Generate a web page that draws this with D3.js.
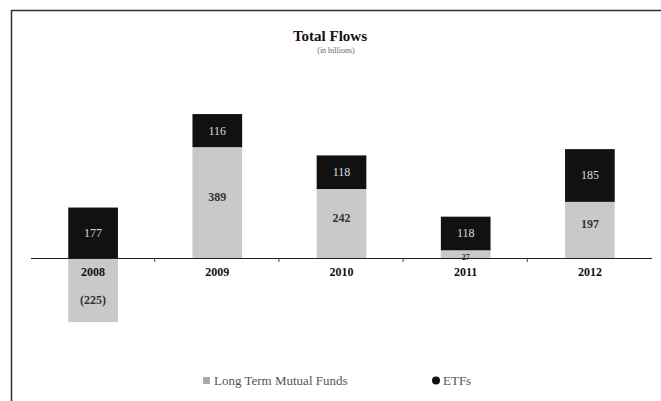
<!DOCTYPE html>
<html>
<head>
<meta charset="utf-8">
<script src="https://cdn.jsdelivr.net/npm/d3@7"></script>
<style>
  body { margin: 0; background: #fff; }
  text { font-family: "Liberation Serif", "DejaVu Serif", serif; }
</style>
</head>
<body>
<div id="chart"></div>
<script>
// values in billions
var years = ["2008", "2009", "2010", "2011", "2012"];
var mutualFunds = [-225, 389, 242, 27, 197];
var etfs = [177, 116, 118, 118, 185];
var seriesNames = ["Long Term Mutual Funds", "ETFs"];

var width = 661, height = 401;
var svg = d3.select("#chart").append("svg")
  .attr("width", width)
  .attr("height", height);

// frame lines
svg.append("line").attr("x1", 11).attr("x2", width).attr("y1", 10.5).attr("y2", 10.5)
  .attr("stroke", "#333").attr("stroke-width", 1.5);
svg.append("line").attr("x1", 11.5).attr("x2", 11.5).attr("y1", 10).attr("y2", height)
  .attr("stroke", "#333").attr("stroke-width", 1.5);

svg.append("text").attr("x", 330).attr("y", 41).attr("text-anchor", "middle")
  .attr("font-size", 15).attr("font-weight", "bold").attr("fill", "#111")
  .text("Total Flows");
svg.append("text").attr("x", 336).attr("y", 53).attr("text-anchor", "middle")
  .attr("font-size", 8).attr("fill", "#666")
  .text("(in billions)");

var x = d3.scaleBand().domain(years).range([31, 652]).paddingInner(0.6).paddingOuter(0.3);
var y = d3.scaleLinear().domain([-400, 600]).range([258 + 400 * 0.285, 258 - 600 * 0.285]);

var cMF = "#c9c9c9", cETF = "#111";

var rows = years.map(function(yr, i){
  var mf = mutualFunds[i];
  var base = mf > 0 ? mf : 0;
  return {year: yr, mf: mf, etf: etfs[i], etf0: base, etf1: base + etfs[i]};
});

var g = svg.append("g");

// mutual funds segment
g.selectAll(".mf").data(rows).enter().append("rect")
  .attr("class", "mf")
  .attr("x", function(d){ return x(d.year); })
  .attr("width", x.bandwidth())
  .attr("y", function(d){ return y(Math.max(0, d.mf)); })
  .attr("height", function(d){ return Math.abs(y(d.mf) - y(0)); })
  .attr("fill", cMF);

// ETF segment on top
g.selectAll(".etf").data(rows).enter().append("rect")
  .attr("class", "etf")
  .attr("x", function(d){ return x(d.year); })
  .attr("width", x.bandwidth())
  .attr("y", function(d){ return y(d.etf1); })
  .attr("height", function(d){ return y(d.etf0) - y(d.etf1); })
  .attr("fill", cETF);

// axis line with ticks between categories
svg.append("line").attr("x1", 31).attr("x2", 652).attr("y1", 258.5).attr("y2", 258.5)
  .attr("stroke", "#222").attr("stroke-width", 1.2);
svg.selectAll(".tk").data(years.slice(1)).enter().append("line")
  .attr("x1", function(d){ return x(d) - x.step() * x.paddingInner() / 2 - 0.5; })
  .attr("x2", function(d){ return x(d) - x.step() * x.paddingInner() / 2 - 0.5; })
  .attr("y1", 258).attr("y2", 262)
  .attr("stroke", "#444");

// value labels
g.selectAll(".etfLbl").data(rows).enter().append("text")
  .attr("x", function(d){ return x(d.year) + x.bandwidth() / 2; })
  .attr("y", function(d){ return (y(d.etf0) + y(d.etf1)) / 2 + 4; })
  .attr("text-anchor", "middle").attr("font-size", 12).attr("fill", "#ddd")
  .text(function(d){ return d.etf; });

g.selectAll(".mfLbl").data(rows).enter().append("text")
  .attr("x", function(d){ return x(d.year) + x.bandwidth() / 2; })
  .attr("y", function(d){
    var c = (y(d.mf) + y(0)) / 2;
    if (d.mf < 0) return c + 14;
    if (Math.abs(d.mf) < 50) return y(0) + 2;
    return c - 2;
  })
  .attr("text-anchor", "middle")
  .attr("font-size", function(d){ return Math.abs(d.mf) < 50 ? 8 : 12; })
  .attr("font-weight", "bold").attr("fill", "#333")
  .text(function(d){ return d.mf < 0 ? "(" + (-d.mf) + ")" : d.mf; });

// category labels
svg.selectAll(".yr").data(years).enter().append("text")
  .attr("x", function(d){ return x(d) + x.bandwidth() / 2; })
  .attr("y", 276)
  .attr("text-anchor", "middle").attr("font-size", 12).attr("font-weight", "bold").attr("fill", "#111")
  .text(function(d){ return d; });

// legend
var legend = svg.append("g");
legend.append("rect").attr("x", 203).attr("y", 377).attr("width", 7).attr("height", 7).attr("fill", "#aaa");
legend.append("text").attr("x", 214).attr("y", 385).attr("font-size", 13).attr("fill", "#555").text(seriesNames[0]);
legend.append("circle").attr("cx", 436).attr("cy", 380.5).attr("r", 4).attr("fill", cETF);
legend.append("text").attr("x", 443).attr("y", 385).attr("font-size", 13).attr("fill", "#555").text(seriesNames[1]);
</script>
</body>
</html>
